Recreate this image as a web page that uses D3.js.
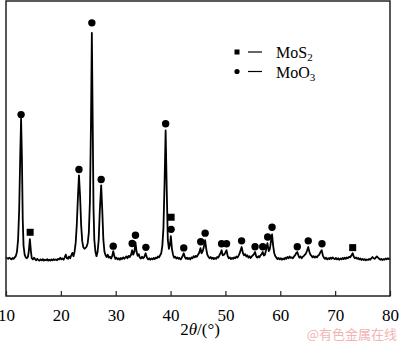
<!DOCTYPE html>
<html>
<head>
<meta charset="utf-8">
<script src="https://cdn.jsdelivr.net/npm/d3@7"></script>
<style>
  html, body { margin: 0; padding: 0; background: #fff; }
  svg { display: block; }
</style>
</head>
<body>
<script>
// XRD pattern, 2theta (deg) vs intensity (a.u.)
var xrd = [
  [10.0,132],[10.2,128],[10.4,126],[10.6,130],[10.8,127],[11.0,124],[11.2,129],[11.4,126],[11.6,131],[11.8,136],
  [12.0,150],[12.2,190],[12.4,290],[12.6,480],[12.75,601],[12.9,470],[13.05,260],[13.2,170],[13.4,140],[13.6,131],
  [13.8,128],[14.0,133],[14.15,150],[14.35,193],[14.55,150],[14.7,128],[14.9,124],[15.1,130],[15.3,125],[15.5,121],
  [15.7,126],[15.9,122],[16.1,120],[16.3,124],[16.5,121],[16.7,125],[16.9,120],[17.1,123],[17.3,121],[17.5,125],
  [17.7,120],[17.9,123],[18.1,120],[18.3,124],[18.5,121],[18.7,125],[18.9,122],[19.1,124],[19.3,121],[19.5,126],
  [19.7,124],[19.9,130],[20.1,124],[20.3,127],[20.5,123],[20.7,131],[20.9,140],[21.1,128],[21.3,126],[21.5,134],
  [21.7,128],[21.9,138],[22.1,146],[22.3,135],[22.5,150],[22.7,180],[22.9,240],[23.1,330],[23.3,409],[23.5,340],
  [23.7,240],[23.9,185],[24.1,165],[24.3,160],[24.5,163],[24.7,168],[24.9,180],[25.1,215],[25.3,320],[25.5,600],
  [25.65,892],[25.8,600],[25.95,300],[26.1,190],[26.3,150],[26.5,135],[26.7,150],[26.9,190],[27.1,290],[27.35,375],
  [27.55,290],[27.75,190],[27.95,150],[28.15,138],[28.35,132],[28.55,140],[28.75,130],[28.95,133],[29.15,127],[29.35,135],
  [29.55,152],[29.75,135],[29.95,126],[30.15,130],[30.35,124],[30.55,128],[30.75,123],[30.95,129],[31.15,125],[31.35,131],
  [31.55,126],[31.75,130],[31.95,134],[32.15,128],[32.35,136],[32.55,132],[32.8,140],[33.0,155],[33.2,140],[33.4,150],
  [33.6,182],[33.8,150],[34.0,136],[34.2,142],[34.4,130],[34.6,127],[34.8,133],[35.0,128],[35.2,132],[35.45,145],
  [35.7,130],[35.9,124],[36.1,128],[36.3,123],[36.5,127],[36.7,124],[36.9,129],[37.1,125],[37.3,130],[37.5,128],
  [37.7,134],[37.9,131],[38.1,138],[38.3,145],[38.5,170],[38.7,230],[38.9,380],[39.1,561],[39.3,360],[39.5,190],
  [39.7,160],[39.9,175],[40.05,203],[40.25,160],[40.45,140],[40.65,130],[40.85,133],[41.05,127],[41.25,131],[41.45,126],
  [41.65,129],[41.85,124],[42.05,130],[42.2,136],[42.4,145],[42.6,132],[42.8,126],[43.0,130],[43.2,125],[43.4,129],
  [43.6,124],[43.8,131],[44.0,128],[44.2,135],[44.4,131],[44.6,136],[44.8,133],[45.0,140],[45.2,146],[45.45,162],
  [45.65,145],[45.85,152],[46.05,165],[46.3,189],[46.5,160],[46.7,140],[46.9,133],[47.1,128],[47.3,132],[47.5,126],
  [47.7,130],[47.9,125],[48.1,129],[48.3,126],[48.5,132],[48.7,130],[48.9,138],[49.1,145],[49.3,155],[49.5,138],
  [49.75,140],[49.95,146],[50.2,155],[50.4,136],[50.6,128],[50.8,131],[51.0,125],[51.2,129],[51.4,126],[51.6,131],
  [51.8,128],[52.0,134],[52.2,130],[52.4,137],[52.6,145],[52.95,166],[53.2,145],[53.4,138],[53.6,142],[53.8,134],
  [54.0,138],[54.2,130],[54.4,135],[54.6,129],[54.8,134],[55.0,138],[55.2,142],[55.4,149],[55.6,135],[55.8,130],
  [56.0,135],[56.2,131],[56.4,138],[56.6,142],[56.8,149],[57.0,137],[57.2,140],[57.4,155],[57.65,179],[57.9,152],
  [58.1,160],[58.3,185],[58.5,209],[58.7,170],[58.9,145],[59.1,135],[59.3,130],[59.5,125],[59.7,129],[59.9,124],
  [60.1,128],[60.3,123],[60.5,127],[60.7,124],[60.9,130],[61.1,126],[61.3,132],[61.5,128],[61.7,134],[61.9,129],
  [62.1,131],[62.3,128],[62.5,134],[62.7,138],[62.9,145],[63.1,149],[63.3,138],[63.5,130],[63.7,134],[63.9,128],
  [64.1,133],[64.3,136],[64.5,140],[64.7,145],[64.9,155],[65.1,166],[65.3,150],[65.5,140],[65.7,136],[65.9,131],
  [66.1,135],[66.3,130],[66.5,134],[66.7,131],[66.9,137],[67.1,140],[67.3,148],[67.55,155],[67.75,138],[67.95,130],
  [68.15,126],[68.35,130],[68.55,124],[68.75,128],[68.95,125],[69.15,130],[69.35,126],[69.55,131],[69.75,127],[69.95,125],
  [70.15,129],[70.35,124],[70.55,128],[70.75,123],[70.95,127],[71.15,124],[71.35,129],[71.55,125],[71.75,130],[71.95,126],
  [72.15,131],[72.35,128],[72.55,133],[72.75,131],[72.95,137],[73.2,145],[73.4,133],[73.6,128],[73.8,131],[74.0,126],
  [74.2,129],[74.4,124],[74.6,127],[74.8,122],[75.0,126],[75.2,122],[75.4,125],[75.6,121],[75.8,124],[76.0,122],
  [76.2,126],[76.4,123],[76.6,128],[76.8,132],[77.0,128],[77.2,126],[77.4,130],[77.6,134],[77.8,130],[78.0,127],
  [78.2,123],[78.4,126],[78.6,122],[78.8,125],[79.0,123],[79.2,127],[79.4,124],[79.6,128],[79.8,125],[80.0,127]
];

// phase markers: [2theta, marker level]
var moo3Marks = [
  [12.75,615],[23.3,429],[25.65,926],[27.35,395],[29.55,169],[33.0,178],[33.6,206],[35.5,165],
  [39.1,584],[40.1,226],[42.4,163],[45.5,184],[46.3,213],[49.3,177],[50.2,177],[52.95,187],
  [55.4,167],[56.8,167],[57.7,200],[58.5,233],[63.1,167],[65.1,187],[67.6,177]
];
var mos2Marks = [[14.4,216],[40.1,267],[73.2,164]];

var xTicks = [10, 20, 30, 40, 50, 60, 70, 80];
var legendItems = [
  { shape: 'square', name: 'MoS', sub: '2' },
  { shape: 'circle', name: 'MoO', sub: '3' }
];

var W = 400, H = 342;
// plot box (avoid the global name "top")
var box = { left: 6, right: 390, top: 1, bottom: 296 };

var svg = d3.select('body').append('svg')
  .attr('width', W).attr('height', H);

svg.append('rect').attr('width', W).attr('height', H).attr('fill', '#fff');

var x = d3.scaleLinear().domain([10, 80]).range([box.left, box.right]);
var y = d3.scaleLinear().domain([0, 1000]).range([box.bottom, box.top]);

// spectrum
var line = d3.line()
  .x(function(d) { return x(d[0]); })
  .y(function(d) { return y(d[1]); });

svg.append('path')
  .datum(xrd)
  .attr('d', line)
  .attr('fill', 'none')
  .attr('stroke', '#000')
  .attr('stroke-width', 1.8)
  .attr('stroke-linejoin', 'round');

// markers
svg.selectAll('circle.moo3')
  .data(moo3Marks)
  .enter().append('circle')
  .attr('class', 'moo3')
  .attr('cx', function(d) { return x(d[0]); })
  .attr('cy', function(d) { return y(d[1]); })
  .attr('r', 3.7)
  .attr('fill', '#000');

svg.selectAll('rect.mos2')
  .data(mos2Marks)
  .enter().append('rect')
  .attr('class', 'mos2')
  .attr('x', function(d) { return x(d[0]) - 3.5; })
  .attr('y', function(d) { return y(d[1]) - 3.5; })
  .attr('width', 7).attr('height', 7)
  .attr('fill', '#000');

// frame
svg.append('rect')
  .attr('x', box.left).attr('y', box.top)
  .attr('width', box.right - box.left).attr('height', box.bottom - box.top)
  .attr('fill', 'none')
  .attr('stroke', '#222')
  .attr('stroke-width', 1.5);

// bottom axis, ticks pointing inward
var xAxis = d3.axisBottom(x).tickValues(xTicks).tickSizeInner(-5).tickSizeOuter(0).tickPadding(13);
var gx = svg.append('g')
  .attr('transform', 'translate(0,' + box.bottom + ')')
  .call(xAxis);
gx.select('.domain').remove();
gx.selectAll('.tick line').attr('stroke', '#222').attr('stroke-width', 1.2);
gx.selectAll('.tick text')
  .attr('font-family', '"Liberation Serif", "Times New Roman", serif')
  .attr('font-size', '17px')
  .attr('fill', '#000');

// axis title 2θ/(°)
var title = svg.append('text')
  .attr('x', 200).attr('y', 335)
  .attr('text-anchor', 'middle')
  .attr('font-family', '"Liberation Serif", "Times New Roman", serif')
  .attr('font-size', '17px')
  .attr('fill', '#000');
title.append('tspan').text('2');
title.append('tspan').attr('font-style', 'italic').text('θ');
title.append('tspan').text('/(°)');

// legend
var lg = svg.append('g');
legendItems.forEach(function(d, i) {
  var cy = 52 + i * 19.5;
  if (d.shape === 'square') {
    lg.append('rect').attr('x', 234.5).attr('y', cy - 2.5).attr('width', 5).attr('height', 5).attr('fill', '#000');
  } else {
    lg.append('circle').attr('cx', 237).attr('cy', cy).attr('r', 2.6).attr('fill', '#000');
  }
  lg.append('line').attr('x1', 248).attr('x2', 262).attr('y1', cy).attr('y2', cy)
    .attr('stroke', '#000').attr('stroke-width', 1.2);
  var t = lg.append('text')
    .attr('x', 276).attr('y', cy + 6)
    .attr('font-family', '"Liberation Serif", "Times New Roman", serif')
    .attr('font-size', '16px')
    .attr('fill', '#000');
  t.append('tspan').text(d.name);
  t.append('tspan').attr('font-size', '11px').attr('dy', 3).text(d.sub);
});

// watermark
svg.append('text')
  .attr('x', 397).attr('y', 339)
  .attr('text-anchor', 'end')
  .attr('font-family', '"Noto Sans CJK SC", sans-serif')
  .attr('font-size', '13px')
  .attr('fill', '#f2b3b3')
  .text('@有色金属在线');
</script>
</body>
</html>
